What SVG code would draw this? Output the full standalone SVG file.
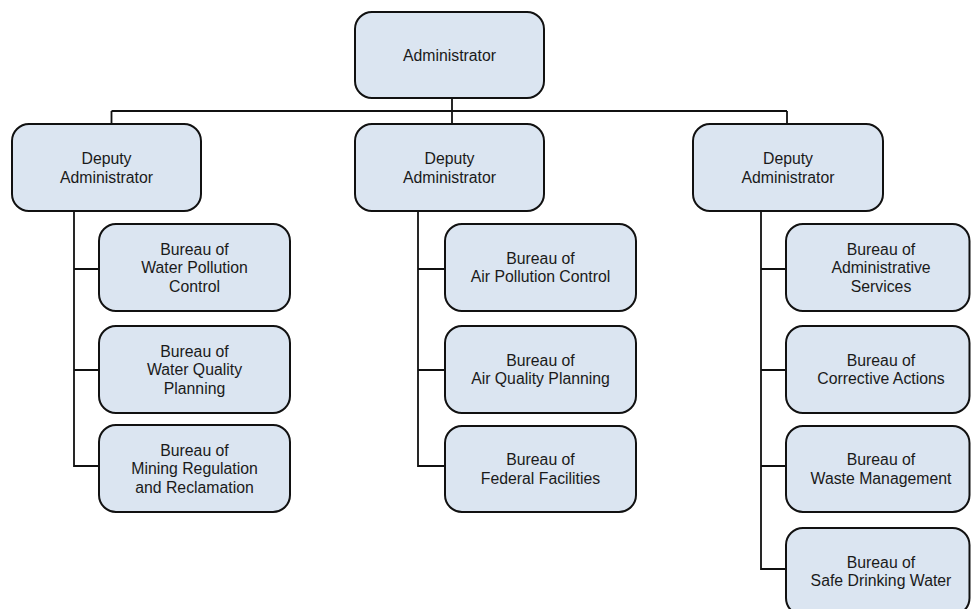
<svg xmlns="http://www.w3.org/2000/svg" width="971" height="609" viewBox="0 0 971 609">
<style>
.box{fill:#dbe5f1;stroke:#111;stroke-width:2}
.t{font-family:"Liberation Sans",Arial,sans-serif;font-size:15.8px;fill:#1a1a1a;text-anchor:middle}
.c{fill:none;stroke:#111;stroke-width:1.8}
</style>
<rect width="971" height="609" fill="#fff"/>
<g id="connectors">
<path class="c" d="M452 98V111M111.5 111H787M111.5 111V124M452 111V124M787 111V124"/>
<path class="c" d="M74 211V466H99M74 269H99M74 370H99"/>
<path class="c" d="M418 211V466H445M418 269H445M418 370H445"/>
<path class="c" d="M761 210V569H786M761 269H786M761 370H786M761 466H786"/>
</g>
<g id="admin"><rect class="box" x="355" y="12" width="189" height="86" rx="17"/><text class="t" x="449.5" y="61">Administrator</text></g>
<g id="deputy1"><rect class="box" x="12" y="124" width="189" height="87" rx="17"/><text class="t" x="106.5" y="164">Deputy</text><text class="t" x="106.5" y="182.5">Administrator</text></g>
<g id="deputy2"><rect class="box" x="355" y="124" width="189" height="87" rx="17"/><text class="t" x="449.5" y="164">Deputy</text><text class="t" x="449.5" y="182.5">Administrator</text></g>
<g id="deputy3"><rect class="box" x="693" y="124" width="190" height="87" rx="17"/><text class="t" x="788" y="164">Deputy</text><text class="t" x="788" y="182.5">Administrator</text></g>
<g id="b-water-pollution"><rect class="box" x="99" y="224" width="191" height="87" rx="17"/><text class="t" x="194.5" y="254.5">Bureau of</text><text class="t" x="194.5" y="273">Water Pollution</text><text class="t" x="194.5" y="291.5">Control</text></g>
<g id="b-water-quality"><rect class="box" x="99" y="326" width="191" height="87" rx="17"/><text class="t" x="194.5" y="356.5">Bureau of</text><text class="t" x="194.5" y="375">Water Quality</text><text class="t" x="194.5" y="393.5">Planning</text></g>
<g id="b-mining"><rect class="box" x="99" y="425" width="191" height="87" rx="17"/><text class="t" x="194.5" y="455.5">Bureau of</text><text class="t" x="194.5" y="474">Mining Regulation</text><text class="t" x="194.5" y="492.5">and Reclamation</text></g>
<g id="b-air-pollution"><rect class="box" x="445" y="224" width="191" height="87" rx="17"/><text class="t" x="540.5" y="263.5">Bureau of</text><text class="t" x="540.5" y="282">Air Pollution Control</text></g>
<g id="b-air-quality"><rect class="box" x="445" y="326" width="191" height="87" rx="17"/><text class="t" x="540.5" y="365.5">Bureau of</text><text class="t" x="540.5" y="384">Air Quality Planning</text></g>
<g id="b-federal"><rect class="box" x="445" y="426" width="191" height="86" rx="17"/><text class="t" x="540.5" y="465">Bureau of</text><text class="t" x="540.5" y="483.5">Federal Facilities</text></g>
<g id="b-admin-services"><rect class="box" x="786" y="224" width="183.5" height="87" rx="17"/><text class="t" x="881" y="254.5">Bureau of</text><text class="t" x="881" y="273">Administrative</text><text class="t" x="881" y="291.5">Services</text></g>
<g id="b-corrective"><rect class="box" x="786" y="326" width="183.5" height="87" rx="17"/><text class="t" x="881" y="365.5">Bureau of</text><text class="t" x="881" y="384">Corrective Actions</text></g>
<g id="b-waste"><rect class="box" x="786" y="426" width="183.5" height="86" rx="17"/><text class="t" x="881" y="465">Bureau of</text><text class="t" x="881" y="483.5">Waste Management</text></g>
<g id="b-drinking"><rect class="box" x="786" y="528" width="183.5" height="87" rx="17"/><text class="t" x="881" y="567.5">Bureau of</text><text class="t" x="881" y="586">Safe Drinking Water</text></g>
</svg>
